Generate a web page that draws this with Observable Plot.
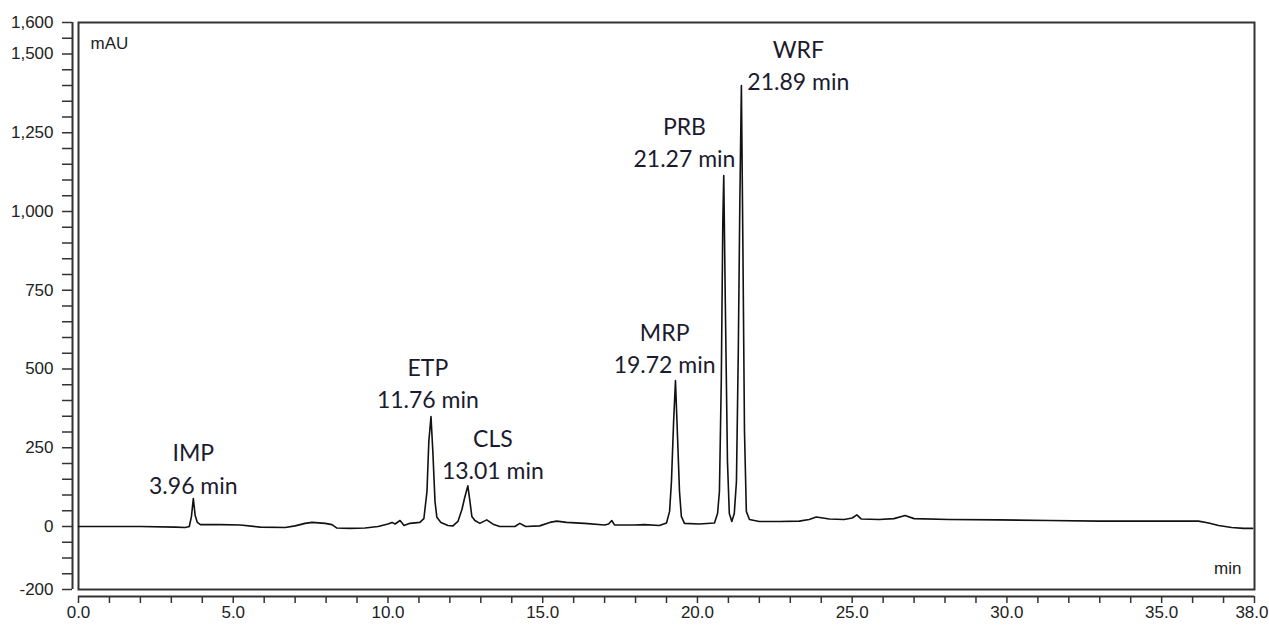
<!DOCTYPE html>
<html>
<head>
<meta charset="utf-8">
<script src="https://cdn.jsdelivr.net/npm/d3@7"></script>
<script src="https://cdn.jsdelivr.net/npm/@observablehq/plot@0.6"></script>
<style>
  html, body { margin: 0; padding: 0; background: #fff; }
  #chart svg { display: block; }
</style>
</head>
<body>
<div id="chart"></div>
<script>
// Chromatogram trace: retention time (min) and absorbance (mAU)
const times = [
  0, 2.0, 3.13, 3.45, 3.58, 3.65, 3.71, 3.77, 3.84, 3.94, 4.58, 5.23, 5.87, 6.68, 7.0, 7.32, 7.55, 7.97, 8.19, 8.35,
  8.77, 9.26, 9.68, 10.0, 10.13, 10.23, 10.39, 10.52, 10.71, 11.03, 11.16, 11.26, 11.32, 11.39, 11.45, 11.52, 11.58, 11.71, 11.94, 12.1,
  12.26, 12.39, 12.48, 12.58, 12.65, 12.71, 12.81, 12.97, 13.19, 13.42, 13.61, 14.1, 14.26, 14.45, 14.9, 15.23, 15.45, 15.77, 16.35, 17.0,
  17.13, 17.23, 17.32, 17.97, 18.29, 18.77, 19.0, 19.1, 19.16, 19.23, 19.29, 19.35, 19.42, 19.48, 19.58, 20.06, 20.55, 20.65, 20.71, 20.77,
  20.82, 20.85, 20.9, 20.97, 21.03, 21.11, 21.19, 21.26, 21.32, 21.37, 21.42, 21.47, 21.52, 21.58, 21.68, 22.0, 22.65, 23.29, 23.61, 23.84,
  24.26, 24.74, 25.0, 25.15, 25.29, 25.87, 26.35, 26.71, 27.0, 28.13, 29.74, 31.35, 32.97, 34.58, 36.19, 36.52, 36.84, 37.26, 37.65, 37.94
];
const signal = [
  0, 0, -2, -3, 0, 32, 89, 35, 13, 6, 6, 5, -2, -3, 2, 10, 13, 10, 6, -5,
  -6, -5, 0, 8, 13, 8, 19, 3, 10, 13, 25, 111, 270, 349, 238, 79, 29, 13, 3, 2,
  16, 54, 92, 129, 79, 32, 19, 10, 21, 6, 0, 0, 10, 0, 2, 13, 17, 13, 10, 5,
  8, 19, 5, 5, 6, 3, 11, 48, 143, 333, 463, 302, 111, 32, 10, 8, 11, 41, 111, 460,
  968, 1114, 714, 206, 41, 16, 41, 143, 556, 1032, 1400, 873, 302, 48, 22, 16, 16, 17, 22, 30,
  24, 22, 27, 37, 24, 22, 25, 35, 25, 22, 21, 19, 17, 17, 17, 11, 3, -3, -6, -6
];

// Peak annotations
const peakNames = ["IMP", "ETP", "CLS", "MRP", "PRB", "WRF"];
const peakRetention = ["3.96 min", "11.76 min", "13.01 min", "19.72 min", "21.27 min", "21.89 min"];
const labelTime = [3.71, 11.29, 13.39, 18.94, 19.58, 23.26];
const labelSignal = [179, 449, 225, 560, 1216, 1460];

// Axis ticks
const yMinorTicks = d3.range(-200, 1601, 50);
const yLabelTicks = [1600, 1500, 1250, 1000, 750, 500, 250, 0, -200];
const xMinorTicks = d3.range(0, 39, 1);
const xLabelTicks = [0, 5, 10, 15, 20, 25, 30, 35];
const xEndTick = [38];

const trace = times.map((t, i) => ({t, v: signal[i]}));
const labels = peakNames.map((n, i) => ({
  text: n + "\n" + peakRetention[i], t: labelTime[i], v: labelSignal[i]
}));

const axisFont = "'Liberation Sans', Arial, sans-serif";
const labelFont = "Lato, 'Open Sans', sans-serif";

const chart = Plot.plot({
  width: 1269,
  height: 625,
  marginLeft: 78,
  marginRight: 15,
  marginTop: 22,
  marginBottom: 36,
  style: {background: "#fff", fontFamily: axisFont, color: "#222"},
  x: {domain: [0, 38]},
  y: {domain: [-200, 1600]},
  marks: [
    // detached axis lines
    Plot.ruleX([0], {dx: -6, stroke: "#333", strokeWidth: 2}),
    Plot.ruleY([-200], {dy: 7, stroke: "#333", strokeWidth: 2}),
    Plot.axisY(yMinorTicks, {
      anchor: "left", tickSize: 10, tickPadding: 9, dx: -6, fontSize: 17,
      stroke: "#333", strokeWidth: 1.5, fill: "#222",
      tickFormat: d => yLabelTicks.includes(d) ? d.toLocaleString("en-US") : "",
      label: null
    }),
    Plot.axisX(xMinorTicks, {
      anchor: "bottom", tickSize: 7, tickPadding: 2, dy: 7, fontSize: 17,
      stroke: "#333", strokeWidth: 1.5, fill: "#222",
      tickFormat: d => xLabelTicks.includes(d) ? d.toFixed(1) : "",
      label: null
    }),
    Plot.text(xEndTick, {
      x: d => d, frameAnchor: "bottom", dy: 16, dx: 14, lineAnchor: "top", textAnchor: "end",
      text: d => d.toFixed(1), fontSize: 17, fill: "#222"
    }),
    Plot.frame({stroke: "#333", strokeWidth: 2}),
    Plot.line(trace, {x: "t", y: "v", stroke: "#111", strokeWidth: 1.6, curve: "linear"}),
    Plot.text(labels, {
      x: "t", y: "v", text: "text", fontSize: 23, lineHeight: 1.4, dy: -3,
      fontFamily: labelFont, fill: "#1b1b2f", textAnchor: "middle", lineAnchor: "middle"
    }),
    Plot.text(["mAU"], {frameAnchor: "top-left", dx: 12, dy: 21, textAnchor: "start", lineAnchor: "middle", fontSize: 17, fill: "#222"}),
    Plot.text(["min"], {frameAnchor: "bottom-right", dx: -13, dy: -21, textAnchor: "end", lineAnchor: "middle", fontSize: 17, fill: "#222"})
  ]
});
document.getElementById("chart").appendChild(chart);
</script>
</body>
</html>
